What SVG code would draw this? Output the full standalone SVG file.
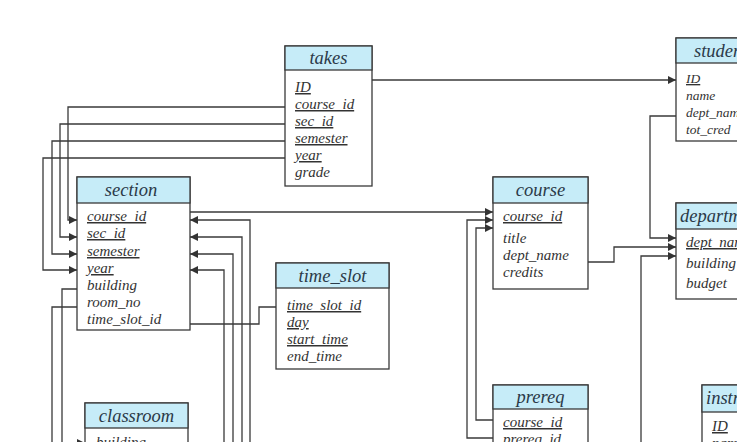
<svg xmlns="http://www.w3.org/2000/svg" width="737" height="442" viewBox="0 0 737 442">
<style>
.box{fill:#ffffff;stroke:#3a3a3a;stroke-width:1.3}
.hdr{fill:#c6ecf8;stroke:#3a3a3a;stroke-width:1.3}
.t{font-family:"Liberation Serif","DejaVu Serif",serif;font-style:italic;font-size:18.5px;fill:#2b3a48;text-anchor:middle}
.a{font-family:"Liberation Serif","DejaVu Serif",serif;font-style:italic;font-size:15px;fill:#333333}
.s{font-size:13.5px}
.u{text-decoration:underline}
.c{fill:none;stroke:#3a3a3a;stroke-width:1.3}
</style>
<defs>
<marker id="ar" viewBox="0 0 10 10" refX="10" refY="5" markerWidth="8" markerHeight="8" markerUnits="userSpaceOnUse" orient="auto">
<path d="M0,0 L10,5 L0,10 z" fill="#333333"/>
</marker>
</defs>
<rect width="737" height="442" fill="#ffffff"/>

<g id="connectors">
<path class="c" d="M372,80 H676" marker-end="url(#ar)"/>
<path class="c" d="M285,107 H68 V220 H77" marker-end="url(#ar)"/>
<path class="c" d="M285,124 H60 V237 H77" marker-end="url(#ar)"/>
<path class="c" d="M285,141 H52 V254 H77" marker-end="url(#ar)"/>
<path class="c" d="M285,158 H43 V270 H77" marker-end="url(#ar)"/>
<path class="c" d="M77,289 H62 V443 H85" marker-end="url(#ar)"/>
<path class="c" d="M77,307 H52 V450"/>
<path class="c" d="M250,450 V220 H190" marker-end="url(#ar)"/>
<path class="c" d="M242,450 V237 H190" marker-end="url(#ar)"/>
<path class="c" d="M233,450 V254 H190" marker-end="url(#ar)"/>
<path class="c" d="M224,450 V270 H190" marker-end="url(#ar)"/>
<path class="c" d="M190,212 H493" marker-end="url(#ar)"/>
<path class="c" d="M190,324 H259 V307 H276"/>
<path class="c" d="M493,420 H476 V228 H493" marker-end="url(#ar)"/>
<path class="c" d="M493,438 H467 V220 H493" marker-end="url(#ar)"/>
<path class="c" d="M588,262 H614 V247 H676" marker-end="url(#ar)"/>
<path class="c" d="M676,116 H650 V238 H676" marker-end="url(#ar)"/>
<path class="c" d="M641,450 V256 H676" marker-end="url(#ar)"/>
</g>

<g id="takes">
<rect class="box" x="285" y="46" width="87" height="140"/>
<rect class="hdr" x="285" y="46" width="87" height="24"/>
<text class="t" x="328.5" y="64">takes</text>
<text class="a u" x="295" y="92">ID</text>
<text class="a u" x="295" y="109">course_id</text>
<text class="a u" x="295" y="126">sec_id</text>
<text class="a u" x="295" y="143">semester</text>
<text class="a u" x="295" y="160">year</text>
<text class="a" x="295" y="177">grade</text>
</g>

<g id="section">
<rect class="box" x="77" y="177" width="113" height="153"/>
<rect class="hdr" x="77" y="177" width="113" height="26"/>
<text class="t" x="131" y="196">section</text>
<text class="a u" x="87" y="221">course_id</text>
<text class="a u" x="87" y="238">sec_id</text>
<text class="a u" x="87" y="256">semester</text>
<text class="a u" x="87" y="273">year</text>
<text class="a" x="87" y="290">building</text>
<text class="a" x="87" y="307">room_no</text>
<text class="a" x="87" y="324">time_slot_id</text>
</g>

<g id="time_slot">
<rect class="box" x="276" y="263" width="113" height="106"/>
<rect class="hdr" x="276" y="263" width="113" height="25"/>
<text class="t" x="332.5" y="282">time_slot</text>
<text class="a u" x="287" y="310">time_slot_id</text>
<text class="a u" x="287" y="327">day</text>
<text class="a u" x="287" y="344">start_time</text>
<text class="a" x="287" y="361">end_time</text>
</g>

<g id="course">
<rect class="box" x="493" y="177" width="95" height="112"/>
<rect class="hdr" x="493" y="177" width="95" height="26"/>
<text class="t" x="540.5" y="196">course</text>
<text class="a u" x="503" y="221">course_id</text>
<text class="a" x="503" y="243">title</text>
<text class="a" x="503" y="260">dept_name</text>
<text class="a" x="503" y="277">credits</text>
</g>

<g id="student">
<rect class="box" x="676" y="38" width="90" height="103"/>
<rect class="hdr" x="676" y="38" width="90" height="25"/>
<text class="t" x="694" y="57" style="text-anchor:start">student</text>
<text class="a s u" x="686" y="83">ID</text>
<text class="a s" x="686" y="100">name</text>
<text class="a s" x="686" y="117">dept_name</text>
<text class="a s" x="686" y="134">tot_cred</text>
</g>

<g id="department">
<rect class="box" x="676" y="203" width="100" height="96"/>
<rect class="hdr" x="676" y="203" width="100" height="26"/>
<text class="t" x="680" y="222" style="text-anchor:start">department</text>
<text class="a u" x="686" y="247">dept_name</text>
<text class="a" x="686" y="268">building</text>
<text class="a" x="686" y="288">budget</text>
</g>

<g id="classroom">
<rect class="box" x="85" y="403" width="103" height="60"/>
<rect class="hdr" x="85" y="403" width="103" height="25"/>
<text class="t" x="136.5" y="422">classroom</text>
<text class="a u" x="96" y="447">building</text>
</g>

<g id="prereq">
<rect class="box" x="493" y="385" width="95" height="70"/>
<rect class="hdr" x="493" y="385" width="95" height="24"/>
<text class="t" x="540.5" y="403">prereq</text>
<text class="a u" x="503" y="427">course_id</text>
<text class="a u" x="503" y="444">prereq_id</text>
</g>

<g id="instructor">
<rect class="box" x="702" y="385" width="90" height="70"/>
<rect class="hdr" x="702" y="385" width="90" height="27"/>
<text class="t" x="706" y="404" style="text-anchor:start">instructor</text>
<text class="a u" x="712" y="431">ID</text>
<text class="a" x="712" y="448">name</text>
</g>
</svg>
